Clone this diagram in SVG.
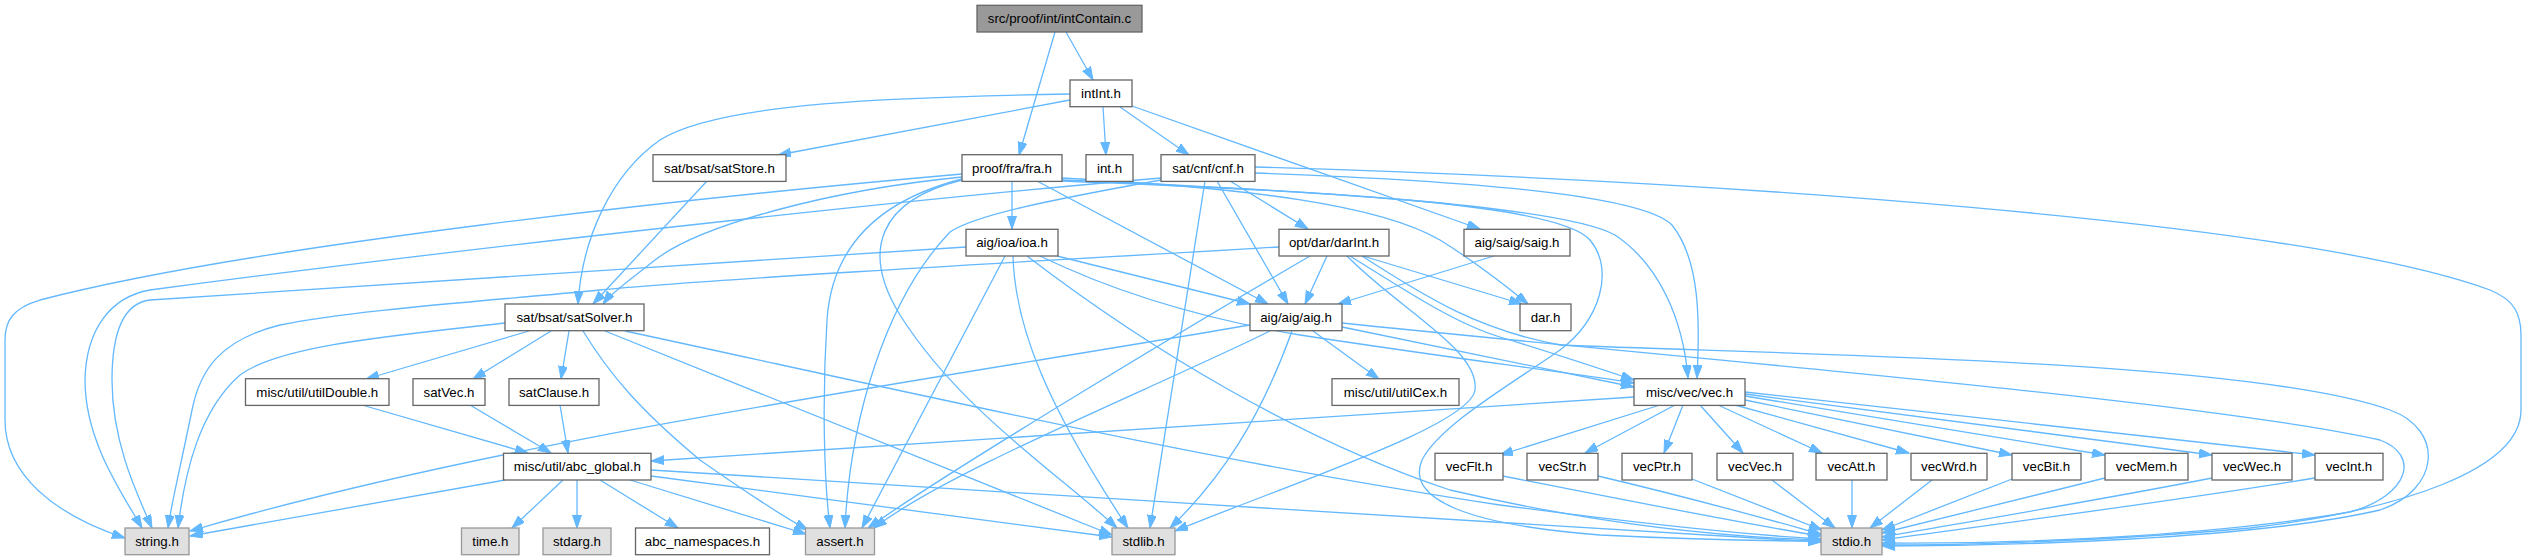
<svg xmlns="http://www.w3.org/2000/svg" width="2528" height="560" viewBox="0 0 2528 560">
<style>
.n rect{fill:#fff;stroke:#666;stroke-width:1.3}
.n.root rect{fill:#999}
.n.sys rect{fill:#e0e0e0;stroke:#999}
.n text{font-family:"Liberation Sans",Arial,sans-serif;font-size:13.3px;text-anchor:middle;fill:#000}
#edges path{fill:none;stroke:#63b8ff;stroke-width:1.3;marker-end:url(#ah)}
</style>
<defs>
<marker id="ah" markerUnits="userSpaceOnUse" markerWidth="14" markerHeight="10" refX="13" refY="4.5" orient="auto"><path d="M0,0 L13,4.5 L0,9 z" fill="#63b8ff" stroke="#63b8ff" stroke-width="1"/></marker>
</defs>
<rect width="2528" height="560" fill="#fff"/>
<g id="edges">
<path d="M1066,32 L1093,80"/>
<path d="M1055,32 L1019,155"/>
<path d="M1103,107 L1106,155"/>
<path d="M1120,107 L1189,155"/>
<path d="M1132,106 L1480,229"/>
<path d="M1070,100 L778,155"/>
<path d="M1070,94 C900,97 720,102 660,140 C610,175 582,240 578,304"/>
<path d="M707,181 L593,304"/>
<path d="M962,177 C830,190 700,225 655,260 C630,280 612,292 603,304"/>
<path d="M962,174 C700,197 250,245 40,300 C12,308 5,322 5,340 L5,420 C5,475 55,515 125,538"/>
<path d="M1012,181 L1012,229"/>
<path d="M1037,181 L1268,304"/>
<path d="M1062,178 C1250,188 1380,205 1440,240 C1480,265 1505,285 1528,304"/>
<path d="M1062,180 C1300,190 1560,205 1615,235 C1660,265 1683,320 1688,378"/>
<path d="M1062,181 C1350,192 1560,205 1590,240 C1615,270 1600,320 1560,350 C1510,385 1440,425 1422,460 C1405,500 1470,525 1600,535 C1700,540 1780,541 1821,541"/>
<path d="M962,179 C880,200 832,245 827,320 C822,400 824,480 830,528"/>
<path d="M962,180 C880,200 860,250 900,315 C960,410 1060,475 1117,528"/>
<path d="M1161,178 C900,200 450,250 150,290 C110,297 86,330 85,380 C85,440 120,490 142,528"/>
<path d="M1161,180 C1050,200 975,215 950,232 C885,300 850,420 845,528"/>
<path d="M1205,181 L1150,528"/>
<path d="M1217,181 L1288,304"/>
<path d="M1230,181 L1308,229"/>
<path d="M1255,173 C1450,180 1640,193 1672,225 C1700,260 1700,320 1697,378"/>
<path d="M1255,167 C1700,180 2300,220 2490,290 C2515,300 2521,315 2521,335 L2521,410 C2521,470 2400,510 2250,528 C2100,542 1950,545 1882,545"/>
<path d="M966,247 C700,263 400,285 150,300 C125,303 112,330 112,380 C112,440 135,490 152,528"/>
<path d="M1057,256 L1250,304"/>
<path d="M1040,256 C1100,285 1180,315 1300,335 C1450,358 1550,370 1634,383"/>
<path d="M1027,256 C1150,350 1300,440 1450,490 C1600,525 1720,537 1821,540"/>
<path d="M1013,256 C1015,330 1050,410 1128,528"/>
<path d="M1005,256 L862,528"/>
<path d="M1279,247 C1000,263 700,280 600,290 C500,300 350,310 280,325 C220,340 200,370 192,410 C182,460 172,500 168,528"/>
<path d="M1310,256 C1200,320 950,470 868,528"/>
<path d="M1327,256 L1305,304"/>
<path d="M1347,256 C1400,310 1480,350 1475,390 C1470,425 1300,480 1175,531"/>
<path d="M1350,256 C1420,300 1460,325 1500,337 C1550,352 1595,367 1634,380"/>
<path d="M1363,256 L1522,304"/>
<path d="M1362,256 C1430,300 1480,330 1560,345 C1800,355 2250,360 2390,410 C2445,430 2440,490 2380,510 C2250,540 2000,546 1882,546"/>
<path d="M1494,256 L1338,304"/>
<path d="M505,323 C400,335 280,345 240,375 C200,410 185,470 178,528"/>
<path d="M529,331 L366,379"/>
<path d="M551,331 L473,379"/>
<path d="M569,331 L561,379"/>
<path d="M583,331 C610,375 640,410 700,460 C750,495 780,515 808,530"/>
<path d="M605,331 L1112,535"/>
<path d="M625,331 C900,390 1200,460 1500,505 C1650,525 1750,535 1821,539"/>
<path d="M1250,325 C900,385 500,440 190,531"/>
<path d="M1270,331 C1150,390 950,470 874,528"/>
<path d="M1292,331 C1260,420 1220,480 1170,528"/>
<path d="M1313,331 L1379,379"/>
<path d="M1342,327 L1634,387"/>
<path d="M1342,323 C1700,360 2200,400 2380,440 C2420,455 2410,495 2350,512 C2200,538 2000,544 1882,543"/>
<path d="M362,405 L528,453"/>
<path d="M470,405 L551,453"/>
<path d="M560,405 L568,453"/>
<path d="M1634,397 L651,461"/>
<path d="M1660,405 L1500,455"/>
<path d="M1675,405 L1585,453"/>
<path d="M1683,405 L1664,453"/>
<path d="M1700,405 L1743,453"/>
<path d="M1718,405 L1822,453"/>
<path d="M1735,405 L1909,453"/>
<path d="M1745,400 L2012,455"/>
<path d="M1745,396 L2105,455"/>
<path d="M1745,394 L2212,455"/>
<path d="M1745,392 L2315,455"/>
<path d="M505,480 L190,536"/>
<path d="M563,480 L512,528"/>
<path d="M577,480 L577,528"/>
<path d="M600,480 L678,528"/>
<path d="M630,480 L806,534"/>
<path d="M651,476 L1112,537"/>
<path d="M651,470 C1000,490 1500,525 1821,542"/>
<path d="M1503,476 C1650,505 1750,525 1821,536"/>
<path d="M1598,476 C1700,500 1770,520 1821,534"/>
<path d="M1692,479 L1822,530"/>
<path d="M1772,480 L1835,528"/>
<path d="M1852,480 L1852,528"/>
<path d="M1932,480 L1870,528"/>
<path d="M2012,479 L1882,530"/>
<path d="M2105,478 L1882,533"/>
<path d="M2212,478 C2100,500 1950,525 1882,537"/>
<path d="M2315,478 C2150,505 1950,530 1882,540"/>
</g>
<g id="n_intContain" class="n root"><rect x="977" y="5.3" width="165" height="26.7"/><text x="1059.5" y="23">src/proof/int/intContain.c</text></g>
<g id="n_intInt" class="n"><rect x="1070" y="80" width="62" height="26.7"/><text x="1101" y="98">intInt.h</text></g>
<g id="n_satStore" class="n"><rect x="653" y="154.7" width="133" height="26.7"/><text x="719.5" y="172.7">sat/bsat/satStore.h</text></g>
<g id="n_fra" class="n"><rect x="962" y="154.7" width="100" height="26.7"/><text x="1012" y="172.7">proof/fra/fra.h</text></g>
<g id="n_int" class="n"><rect x="1086" y="154.7" width="47" height="26.7"/><text x="1109.5" y="172.7">int.h</text></g>
<g id="n_cnf" class="n"><rect x="1161" y="154.7" width="94" height="26.7"/><text x="1208" y="172.7">sat/cnf/cnf.h</text></g>
<g id="n_ioa" class="n"><rect x="966" y="229.3" width="92" height="26.7"/><text x="1012" y="247.3">aig/ioa/ioa.h</text></g>
<g id="n_darInt" class="n"><rect x="1279" y="229.3" width="110" height="26.7"/><text x="1334" y="247.3">opt/dar/darInt.h</text></g>
<g id="n_saig" class="n"><rect x="1464" y="229.3" width="106" height="26.7"/><text x="1517" y="247.3">aig/saig/saig.h</text></g>
<g id="n_satSolver" class="n"><rect x="505" y="304" width="139" height="26.7"/><text x="574.5" y="322">sat/bsat/satSolver.h</text></g>
<g id="n_aig" class="n"><rect x="1250" y="304" width="92" height="26.7"/><text x="1296" y="322">aig/aig/aig.h</text></g>
<g id="n_dar" class="n"><rect x="1520" y="304" width="51" height="26.7"/><text x="1545.5" y="322">dar.h</text></g>
<g id="n_utilDouble" class="n"><rect x="245.5" y="378.7" width="143.5" height="26.7"/><text x="317.3" y="396.7">misc/util/utilDouble.h</text></g>
<g id="n_satVec" class="n"><rect x="413" y="378.7" width="72" height="26.7"/><text x="449" y="396.7">satVec.h</text></g>
<g id="n_satClause" class="n"><rect x="509" y="378.7" width="90" height="26.7"/><text x="554" y="396.7">satClause.h</text></g>
<g id="n_utilCex" class="n"><rect x="1332" y="378.7" width="127" height="26.7"/><text x="1395.5" y="396.7">misc/util/utilCex.h</text></g>
<g id="n_vec" class="n"><rect x="1634" y="378.7" width="111" height="26.7"/><text x="1689.5" y="396.7">misc/vec/vec.h</text></g>
<g id="n_abc_global" class="n"><rect x="503.5" y="453.3" width="147.5" height="26.7"/><text x="577.3" y="471.3">misc/util/abc_global.h</text></g>
<g id="n_vecFlt" class="n"><rect x="1435" y="453.3" width="68" height="26.7"/><text x="1469" y="471.3">vecFlt.h</text></g>
<g id="n_vecStr" class="n"><rect x="1527" y="453.3" width="71" height="26.7"/><text x="1562.5" y="471.3">vecStr.h</text></g>
<g id="n_vecPtr" class="n"><rect x="1622" y="453.3" width="70" height="26.7"/><text x="1657" y="471.3">vecPtr.h</text></g>
<g id="n_vecVec" class="n"><rect x="1717" y="453.3" width="76" height="26.7"/><text x="1755" y="471.3">vecVec.h</text></g>
<g id="n_vecAtt" class="n"><rect x="1816" y="453.3" width="71" height="26.7"/><text x="1851.5" y="471.3">vecAtt.h</text></g>
<g id="n_vecWrd" class="n"><rect x="1911" y="453.3" width="76" height="26.7"/><text x="1949" y="471.3">vecWrd.h</text></g>
<g id="n_vecBit" class="n"><rect x="2012" y="453.3" width="69" height="26.7"/><text x="2046.5" y="471.3">vecBit.h</text></g>
<g id="n_vecMem" class="n"><rect x="2105" y="453.3" width="83" height="26.7"/><text x="2146.5" y="471.3">vecMem.h</text></g>
<g id="n_vecWec" class="n"><rect x="2212" y="453.3" width="80" height="26.7"/><text x="2252" y="471.3">vecWec.h</text></g>
<g id="n_vecInt" class="n"><rect x="2315" y="453.3" width="68" height="26.7"/><text x="2349" y="471.3">vecInt.h</text></g>
<g id="n_string" class="n sys"><rect x="125" y="528" width="64" height="26.7"/><text x="157" y="546">string.h</text></g>
<g id="n_time" class="n sys"><rect x="461.5" y="528" width="57.5" height="26.7"/><text x="490.3" y="546">time.h</text></g>
<g id="n_stdarg" class="n sys"><rect x="543" y="528" width="68" height="26.7"/><text x="577" y="546">stdarg.h</text></g>
<g id="n_abc_namespaces" class="n"><rect x="635.5" y="528" width="134" height="26.7"/><text x="702.5" y="546">abc_namespaces.h</text></g>
<g id="n_assert" class="n sys"><rect x="805.5" y="528" width="69" height="26.7"/><text x="840" y="546">assert.h</text></g>
<g id="n_stdlib" class="n sys"><rect x="1112" y="528" width="63" height="26.7"/><text x="1143.5" y="546">stdlib.h</text></g>
<g id="n_stdio" class="n sys"><rect x="1821" y="528" width="61" height="26.7"/><text x="1851.5" y="546">stdio.h</text></g>
</svg>
